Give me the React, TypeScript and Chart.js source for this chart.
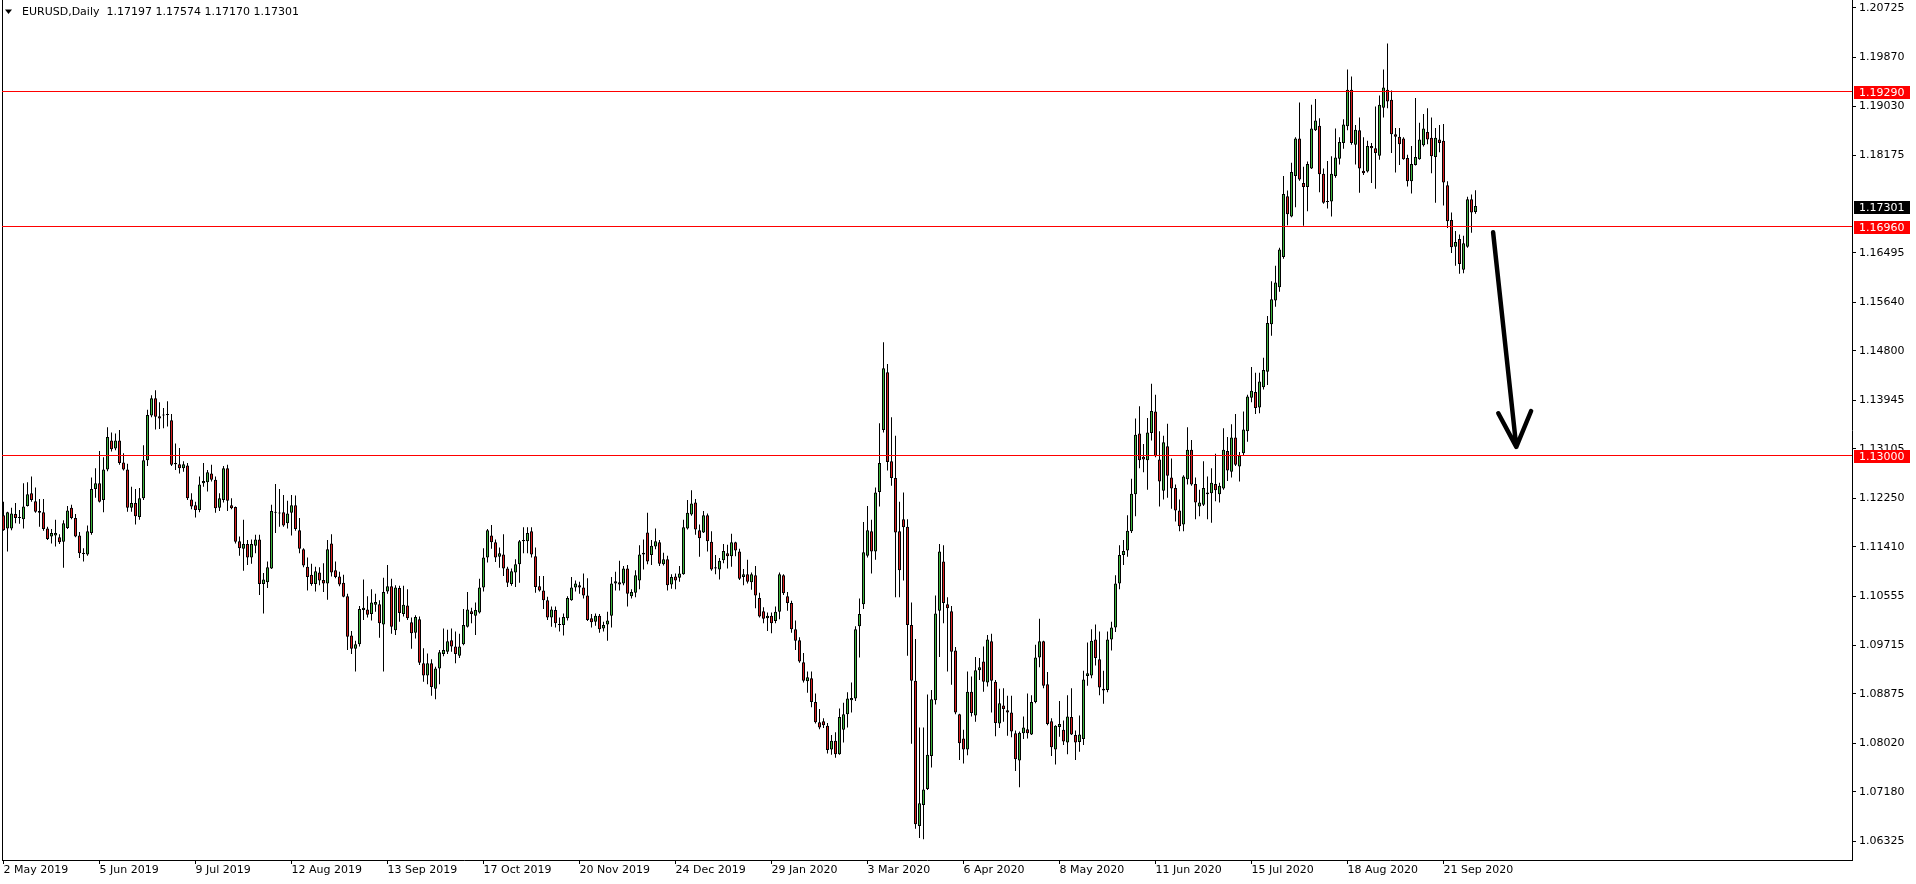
import React, { useEffect, useRef } from "react";
import { Chart, registerables } from "chart.js";

Chart.register(...registerables);

// ---- data (EURUSD daily, bar 0 = 2 May 2019) ----
const OPEN = [
  1.1196,1.1173,1.1173,1.1198,1.1191,1.1189,1.1212,1.1234,1.1220,1.1203,
  1.1201,1.1173,1.1159,1.1161,1.1158,1.1150,1.1174,1.1209,1.1191,1.1161,
  1.1131,1.1128,1.1165,1.1241,1.1251,1.1222,1.1275,1.1325,1.1311,1.1325,
  1.1287,1.1275,1.1209,1.1217,1.1193,1.1225,1.1291,1.1368,1.1398,1.1367,
  1.1368,1.1369,1.1360,1.1286,1.1284,1.1277,1.1282,1.1223,1.1213,1.1205,
  1.1251,1.1253,1.1268,1.1257,1.1209,1.1222,1.1277,1.1213,1.1210,1.1151,
  1.1138,1.1146,1.1123,1.1143,1.1154,1.1077,1.1080,1.1104,1.1202,1.1200,
  1.1201,1.1182,1.1200,1.1213,1.1170,1.1137,1.1107,1.1093,1.1077,1.1097,
  1.1084,1.1078,1.1147,1.1101,1.1090,1.1079,1.1056,1.0988,1.0965,1.0973,
  1.1032,1.1033,
  1.1025,1.1041,1.1042,1.1007,1.1064,1.1073,1.0997,1.1070,1.1025,1.1040,
  1.1011,1.0993,1.1016,1.0940,1.0919,1.0940,1.0896,1.0931,1.0956,1.0960,
  1.0980,1.0969,1.0953,1.0973,1.1003,1.1030,1.1022,1.1028,1.1071,1.1123,
  1.1161,1.1149,1.1124,1.1128,1.1104,1.1077,1.1097,1.1111,1.1151,1.1151,
  1.1168,1.1125,1.1073,1.1066,1.1049,1.1019,1.1032,1.1008,1.1006,1.1018,
  1.1049,1.1071,1.1075,1.1071,1.1057,1.1018,1.1012,1.1022,1.1000,1.1007,
  1.1022,1.1078,1.1080,1.1078,1.1104,1.1056,1.1062,1.1083,1.1128,1.1166,
  1.1127,1.1142,1.1149,1.1111,1.1120,1.1076,1.1090,1.1088,1.1094,1.1173,
  1.1197,1.1218,1.1170,1.1166,1.1196,1.1150,1.1106,1.1102,1.1118,1.1130,
  1.1125,1.1149,1.1133,
  1.1089,1.1094,1.1080,1.1092,1.1053,1.1030,1.1018,1.1022,1.1013,1.1029,
  1.1092,1.1056,1.1044,1.0999,1.0980,1.0942,1.0909,1.0914,1.0873,1.0838,
  1.0840,1.0832,1.0791,1.0806,1.0783,1.0825,1.0852,1.0876,1.0879,1.1004,
  1.1042,1.1126,1.1168,1.1133,1.1236,1.1343,1.1443,1.1289,1.1260,1.1168,
  1.1189,1.1176,1.1006,1.0910,1.0659,1.0695,1.0723,1.0780,1.0876,1.1031,
  1.1116,1.1042,1.1030,1.0962,1.0852,1.0810,1.0791,1.0891,1.0850,1.0928,
  1.0943,1.0907,1.0978,1.0908,1.0836,1.0867,1.0859,1.0855,1.0819,1.0772,
  1.0819,1.0826,1.0817,1.0873,1.0950,1.0978,1.0904,1.0840,1.0791,1.0830,
  1.0825,1.0803,1.0847,1.0816,1.0804,1.0809,1.0918,1.0919,1.0981,1.0947,
  1.0896,1.0894,
  1.0981,1.1002,1.1078,1.1127,1.1135,1.1168,1.1232,1.1337,1.1297,1.1291,
  1.1338,1.1375,1.1292,1.1238,1.1315,1.1261,1.1243,1.1204,1.1180,1.1258,
  1.1309,1.1250,1.1211,1.1214,1.1232,1.1234,1.1250,1.1232,1.1242,1.1307,
  1.1271,1.1330,1.1280,1.1303,1.1341,1.1399,1.1409,1.1382,1.1417,1.1444,
  1.1526,1.1567,1.1590,1.1642,1.1747,1.1712,1.1782,1.1847,1.1770,1.1763,
  1.1795,1.1861,1.1869,1.1786,1.1739,1.1738,1.1782,1.1812,1.1839,1.1868,
  1.1931,1.1836,1.1861,1.1791,1.1790,1.1834,1.1830,1.1817,1.1900,1.1931,
  1.1914,1.1854,1.1850,1.1847,1.1813,1.1773,1.1801,1.1811,1.1835,1.1858,
  1.1848,1.1815,1.1845,1.1843,1.1766,1.1706,1.1660,1.1673,1.1620,1.1660,
  1.1742,1.17197,
];

const HIGH = [
  1.1219,1.1202,1.1209,1.1217,1.1205,1.1251,1.1253,1.1263,1.1244,1.1224,
  1.1224,1.1176,1.1172,1.1188,1.1163,1.1187,1.1212,1.1214,1.1198,1.1167,
  1.1139,1.1178,1.1261,1.1277,1.1307,1.1296,1.1348,1.1339,1.1337,1.1343,
  1.1303,1.1285,1.1245,1.1241,1.1243,1.1317,1.1378,1.1403,1.1412,1.1391,
  1.1381,1.1393,1.1371,1.1320,1.1312,1.1289,1.1286,1.1234,1.1219,1.1263,
  1.1286,1.1274,1.1283,1.1263,1.1234,1.1281,1.1283,1.1225,1.1211,1.1159,
  1.1188,1.1153,1.1154,1.1162,1.1162,1.1096,1.1116,1.1214,1.1250,1.1241,
  1.1231,1.1221,1.1231,1.1230,1.1191,1.1139,1.1123,1.1112,1.1107,1.1106,
  1.1113,1.1153,1.1163,1.1116,1.1098,1.1093,1.1060,1.0996,1.0979,1.1039,
  1.1085,1.1056,
  1.1068,1.1060,1.1049,1.1088,1.1110,1.1086,1.1075,1.1074,1.1074,1.1068,
  1.1019,1.1023,1.1021,1.0966,1.0957,1.0947,1.0934,1.0963,1.1000,1.0998,
  1.1000,1.0995,1.0991,1.1034,1.1063,1.1036,1.1045,1.1086,1.1139,1.1172,
  1.1179,1.1154,1.1140,1.1163,1.1107,1.1104,1.1120,1.1153,1.1175,1.1175,
  1.1175,1.1140,1.1091,1.1091,1.1055,1.1038,1.1038,1.1019,1.1026,1.1056,
  1.1089,1.1083,1.1081,1.1095,1.1087,1.1025,1.1026,1.1025,1.1012,1.1029,
  1.1089,1.1098,1.1117,1.1108,1.1110,1.1068,1.1101,1.1144,1.1154,1.1200,
  1.1153,1.1173,1.1153,1.1131,1.1126,1.1094,1.1095,1.1108,1.1188,1.1222,
  1.1239,1.1224,1.1180,1.1203,1.1199,1.1168,1.1127,1.1122,1.1146,1.1145,
  1.1164,1.1150,1.1138,
  1.1103,1.1119,1.1097,1.1108,1.1062,1.1037,1.1028,1.1028,1.1038,1.1097,
  1.1094,1.1063,1.1048,1.1014,1.0985,1.0958,1.0926,1.0926,1.0888,1.0861,
  1.0845,1.0837,1.0816,1.0821,1.0862,1.0872,1.0890,1.0907,1.1004,1.1052,
  1.1184,1.1212,1.1188,1.1244,1.1355,1.1495,1.1457,1.1365,1.1333,1.1219,
  1.1235,1.1189,1.1045,1.0982,1.0829,1.0829,1.0886,1.0894,1.1057,1.1146,
  1.1144,1.1054,1.1039,1.0968,1.0853,1.0825,1.0926,1.0917,1.0951,1.0949,
  1.0969,1.0989,1.0991,1.0911,1.0896,1.0897,1.0884,1.0884,1.0824,1.0822,
  1.0848,1.0888,1.0885,1.0972,1.1017,1.0979,1.0925,1.0845,1.0833,1.0875,
  1.0841,1.0885,1.0897,1.0824,1.0850,1.0927,1.0976,1.0999,1.1007,1.0995,
  1.0927,1.0995,
  1.1012,1.1092,1.1144,1.1153,1.1196,1.1259,1.1363,1.1384,1.1319,1.1364,
  1.1423,1.1404,1.1341,1.1333,1.1354,1.1294,1.1249,1.1223,1.1265,1.1348,
  1.1326,1.1261,1.1240,1.1289,1.1263,1.1277,1.1302,1.1252,1.1346,1.1331,
  1.1353,1.1371,1.1305,1.1375,1.1404,1.1452,1.1442,1.1442,1.1468,1.1540,
  1.1600,1.1627,1.1658,1.1782,1.1757,1.1805,1.1849,1.1909,1.1798,1.1807,
  1.1905,1.1915,1.1882,1.1795,1.1808,1.1816,1.1864,1.1849,1.1880,1.1966,
  1.1954,1.1870,1.1883,1.1849,1.1843,1.1839,1.1902,1.1921,1.1966,1.2011,
  1.1930,1.1865,1.1865,1.1849,1.1819,1.1834,1.1917,1.1874,1.1889,1.1899,
  1.1883,1.1865,1.1870,1.1872,1.1773,1.1719,1.1687,1.1681,1.1679,1.1746,
  1.1750,1.17574,
];

const LOW = [
  1.1169,1.1133,1.1170,1.1182,1.1181,1.1173,1.1211,1.1219,1.1200,1.1176,
  1.1169,1.1153,1.1147,1.1142,1.1146,1.1105,1.1172,1.1189,1.1158,1.1122,
  1.1116,1.1126,1.1162,1.1226,1.1218,1.1201,1.1272,1.1306,1.1308,1.1283,
  1.1273,1.1202,1.1202,1.1180,1.1188,1.1222,1.1281,1.1365,1.1344,1.1345,
  1.1346,1.1349,1.1281,1.1274,1.1268,1.1271,1.1222,1.1206,1.1192,1.1201,
  1.1245,1.1237,1.1254,1.1200,1.1203,1.1218,1.1203,1.1206,1.1147,1.1126,
  1.1100,1.1110,1.1112,1.1130,1.1058,1.1026,1.1070,1.1103,1.1165,1.1176,
  1.1176,1.1173,1.1161,1.1169,1.1130,1.1106,1.1066,1.1074,1.1064,1.1075,
  1.1063,1.1050,1.1090,1.1087,1.1073,1.1054,1.0963,1.0956,1.0926,1.0969,
  1.1015,1.1019,
  1.1014,1.1029,1.0984,1.0926,1.1060,1.0991,1.0989,1.1012,1.1021,1.1015,
  1.0965,1.0983,1.0937,1.0908,1.0904,1.0884,1.0878,1.0904,1.0952,1.0956,
  1.0960,1.0940,1.0949,1.0971,1.1002,1.1009,1.0989,1.1026,1.1064,1.1114,
  1.1138,1.1115,1.1105,1.1091,1.1072,1.1074,1.1072,1.1079,1.1130,1.1130,
  1.1123,1.1062,1.1064,1.1034,1.1015,1.1003,1.1002,1.0995,1.0988,1.1014,
  1.1048,1.1064,1.1060,1.1052,1.1013,1.1002,1.1005,1.0993,1.0995,1.0979,
  1.1002,1.1066,1.1066,1.1075,1.1038,1.1052,1.1054,1.1068,1.1102,1.1111,
  1.1110,1.1137,1.1108,1.1109,1.1066,1.1069,1.1068,1.1081,1.1093,1.1171,
  1.1195,1.1162,1.1124,1.1165,1.1133,1.1100,1.1094,1.1085,1.1113,1.1104,
  1.1107,1.1125,1.1084,
  1.1075,1.1078,1.1067,1.1035,1.1019,1.1009,1.0996,1.0992,1.1009,1.1016,
  1.1058,1.1031,1.0993,1.0963,1.0941,1.0907,1.0889,1.0864,1.0836,1.0826,
  1.0828,1.0784,1.0782,1.0777,1.0782,1.0803,1.0829,1.0855,1.0875,1.0950,
  1.1034,1.1123,1.1095,1.1119,1.1211,1.1339,1.1273,1.1247,1.1054,1.1054,
  1.1083,1.0953,1.0801,1.0654,1.0638,1.0636,1.0721,1.0760,1.0869,1.0951,
  1.1009,1.0926,1.0903,1.0852,1.0773,1.0767,1.0781,1.0848,1.0839,1.0911,
  1.0891,1.0900,1.0855,1.0814,1.0828,1.0839,1.0815,1.0812,1.0754,1.0726,
  1.0809,1.0810,1.0816,1.0871,1.0933,1.0897,1.0833,1.0780,1.0765,1.0813,
  1.0799,1.0783,1.0816,1.0773,1.0787,1.0799,1.0901,1.0914,1.0936,1.0885,
  1.0870,1.0890,
  1.0962,1.0994,1.1068,1.1110,1.1124,1.1165,1.1194,1.1277,1.1270,1.1240,
  1.1325,1.1296,1.1211,1.1223,1.1226,1.1207,1.1185,1.1168,1.1168,1.1249,
  1.1247,1.1189,1.1194,1.1212,1.1189,1.1183,1.1220,1.1218,1.1240,1.1255,
  1.1261,1.1281,1.1254,1.1299,1.1323,1.1391,1.1371,1.1372,1.1413,1.1421,
  1.1506,1.1556,1.1582,1.1639,1.1697,1.1711,1.1728,1.1774,1.1696,1.1721,
  1.1794,1.1860,1.1754,1.1734,1.1726,1.1712,1.1779,1.1802,1.1829,1.1861,
  1.1836,1.1802,1.1753,1.1784,1.1788,1.1770,1.1760,1.1810,1.1883,1.1899,
  1.1822,1.1788,1.1801,1.1810,1.1764,1.1752,1.1800,1.1810,1.1833,1.1837,
  1.1787,1.1736,1.1823,1.1731,1.1692,1.1649,1.1627,1.1613,1.1614,1.1658,
  1.1684,1.17170,
];

const CLOSE = [
  1.1170,1.1201,1.1199,1.1191,1.1192,1.1211,1.1232,1.1222,1.1202,1.1200,
  1.1172,1.1155,1.1165,1.1165,1.1149,1.1182,1.1204,1.1191,1.1159,1.1130,
  1.1129,1.1168,1.1241,1.1251,1.1219,1.1275,1.1331,1.1310,1.1325,1.1286,
  1.1275,1.1209,1.1217,1.1194,1.1225,1.1291,1.1369,1.1398,1.1366,1.1363,
  1.1369,1.1370,1.1283,1.1284,1.1277,1.1284,1.1225,1.1211,1.1205,1.1249,
  1.1255,1.1270,1.1257,1.1208,1.1225,1.1277,1.1221,1.1208,1.1150,1.1139,
  1.1146,1.1123,1.1146,1.1154,1.1077,1.1085,1.1106,1.1203,1.1200,1.1199,
  1.1178,1.1199,1.1213,1.1172,1.1138,1.1109,1.1089,1.1077,1.1099,1.1083,
  1.1078,1.1137,1.1097,1.1089,1.1076,1.1055,1.0986,1.0965,1.0973,1.1034,
  1.1036,1.1024,
  1.1045,1.1046,1.1009,1.1063,1.1073,1.1003,1.1071,1.1027,1.1041,1.1018,
  1.0992,1.1020,1.0941,1.0919,1.0940,1.0899,1.0931,1.0959,1.0963,1.0978,
  1.0969,1.0956,1.0969,1.1006,1.1033,1.1025,1.1032,1.1071,1.1123,1.1170,
  1.1149,1.1123,1.1130,1.1104,1.1079,1.1099,1.1111,1.1151,1.1153,1.1165,
  1.1128,1.1072,1.1066,1.1049,1.1019,1.1033,1.1009,1.1006,1.1020,1.1053,
  1.1071,1.1078,1.1071,1.1057,1.1015,1.1011,1.1022,1.0999,1.1006,1.1014,
  1.1078,1.1082,1.1076,1.1104,1.1060,1.1063,1.1092,1.1128,1.1131,1.1116,
  1.1143,1.1151,1.1112,1.1120,1.1075,1.1089,1.1083,1.1095,1.1175,1.1200,
  1.1216,1.1171,1.1156,1.1196,1.1151,1.1102,1.1104,1.1117,1.1134,1.1125,
  1.1149,1.1135,1.1086,
  1.1094,1.1081,1.1094,1.1057,1.1021,1.1017,1.1022,1.1009,1.1029,1.1094,
  1.1061,1.1044,1.0999,1.0979,1.0943,1.0910,1.0916,1.0873,1.0838,1.0829,
  1.0833,1.0790,1.0806,1.0783,1.0847,1.0852,1.0879,1.0880,1.0999,1.1025,
  1.1132,1.1170,1.1133,1.1235,1.1286,1.1450,1.1288,1.1260,1.1166,1.1101,
  1.1175,1.1006,1.0910,1.0662,1.0698,1.0722,1.0782,1.0878,1.1026,1.1133,
  1.1044,1.1035,1.0960,1.0855,1.0802,1.0791,1.0891,1.0854,1.0928,1.0933,
  1.0908,1.0981,1.0910,1.0837,1.0871,1.0861,1.0855,1.0822,1.0774,1.0820,
  1.0829,1.0819,1.0873,1.0950,1.0978,1.0901,1.0835,1.0795,1.0832,1.0835,
  1.0805,1.0848,1.0817,1.0803,1.0817,1.0912,1.0923,1.0979,1.0949,1.0898,
  1.0893,1.0981,
  1.1002,1.1078,1.1127,1.1134,1.1169,1.1233,1.1335,1.1291,1.1292,1.1339,
  1.1376,1.1298,1.1254,1.1322,1.1264,1.1242,1.1204,1.1177,1.1263,1.1309,
  1.1249,1.1218,1.1218,1.1243,1.1235,1.1252,1.1239,1.1247,1.1309,1.1273,
  1.1330,1.1283,1.1299,1.1344,1.1401,1.1411,1.1381,1.1427,1.1447,1.1528,
  1.1569,1.1598,1.1655,1.1751,1.1716,1.1789,1.1847,1.1776,1.1763,1.1803,
  1.1864,1.1878,1.1785,1.1736,1.1737,1.1786,1.1814,1.1841,1.1871,1.1931,
  1.1839,1.1862,1.1795,1.1787,1.1834,1.1830,1.1822,1.1905,1.1935,1.1911,
  1.1854,1.1850,1.1837,1.1811,1.1773,1.1803,1.1815,1.1845,1.1864,1.1845,
  1.1816,1.1848,1.1839,1.1771,1.1704,1.1659,1.1668,1.1630,1.1666,1.1742,
  1.1719,1.17301,
];

const DATE_LABELS = [
  "2 May 2019", "5 Jun 2019", "9 Jul 2019", "12 Aug 2019", "13 Sep 2019",
  "17 Oct 2019", "20 Nov 2019", "24 Dec 2019", "29 Jan 2020", "3 Mar 2020",
  "6 Apr 2020", "8 May 2020", "11 Jun 2020", "15 Jul 2020", "18 Aug 2020",
  "21 Sep 2020",
];
const DATE_TICK_BARS = [0, 24, 48, 72, 96, 120, 144, 168, 192, 216, 240, 264, 288, 312, 336, 360];

const PRICE_TICKS = [
  1.20725, 1.1987, 1.1903, 1.18175, 1.16495, 1.1564, 1.148, 1.13945,
  1.13105, 1.1225, 1.1141, 1.10555, 1.09715, 1.08875, 1.0802, 1.0718, 1.06325,
];
const PRICE_MIN = 1.06001;
const PRICE_MAX = 1.20862;
const BAR_MIN = -0.375;
const BAR_MAX = 462.125;

const LEVELS = [1.1929, 1.1696, 1.13];
const SYMBOL = "EURUSD,Daily";

// hand-drawn arrow, in (bar, price) coordinates
const ARROW_FROM = [372.4, 1.1685];
const ARROW_TO = [378.2, 1.1314];
const ARROW_WING_L = [373.7, 1.1372];
const ARROW_WING_R = [381.9, 1.1376];

const GREEN = "#3cb43c";
const RED = "#d81e1e";
const FONT = '"DejaVu Sans", "Liberation Sans", sans-serif';

const overlayPlugin = {
  id: "mt4overlay",
  afterDatasetsDraw(chart: any) {
    const { ctx, chartArea, scales } = chart;
    const x = scales.x;
    const y = scales.y;
    ctx.save();
    // left frame of the chart window
    ctx.fillStyle = "#000";
    ctx.fillRect(chartArea.left, chartArea.top, 1, chartArea.bottom - chartArea.top);
    // horizontal levels
    ctx.fillStyle = "#ff0000";
    LEVELS.forEach((v) => {
      const py = Math.round(y.getPixelForValue(v));
      ctx.fillRect(chartArea.left, py, chartArea.right - chartArea.left, 1);
    });
    // arrow
    const P = (p: number[]) => [x.getPixelForValue(p[0]), y.getPixelForValue(p[1])];
    const a = P(ARROW_FROM), b = P(ARROW_TO), l = P(ARROW_WING_L), r = P(ARROW_WING_R);
    ctx.strokeStyle = "#000";
    ctx.lineWidth = 4.5;
    ctx.lineCap = "round";
    ctx.lineJoin = "round";
    ctx.beginPath();
    ctx.moveTo(a[0], a[1]);
    ctx.lineTo(b[0], b[1]);
    ctx.moveTo(l[0], l[1]);
    ctx.lineTo(b[0], b[1]);
    ctx.lineTo(r[0], r[1]);
    ctx.stroke();
    ctx.restore();
  },
  afterDraw(chart: any) {
    const { ctx, scales } = chart;
    const y = scales.y;
    ctx.save();
    ctx.font = "11px " + FONT;
    ctx.textBaseline = "middle";
    ctx.textAlign = "left";
    const box = (v: number, bg: string) => {
      const py = Math.round(y.getPixelForValue(v));
      const top = py - 5;
      ctx.fillStyle = bg;
      ctx.fillRect(1854, top, 56, 13);
      ctx.fillStyle = "#fff";
      ctx.fillText(v.toFixed(5), 1859, top + 7);
    };
    LEVELS.forEach((v) => box(v, "#ff0000"));
    box(CLOSE[CLOSE.length - 1], "#000000");

    // header
    const n = OPEN.length - 1;
    ctx.fillStyle = "#000";
    ctx.beginPath();
    ctx.moveTo(5, 9.5);
    ctx.lineTo(12, 9.5);
    ctx.lineTo(8.5, 14);
    ctx.closePath();
    ctx.fill();
    const txt = `${SYMBOL}  ${OPEN[n].toFixed(5)} ${HIGH[n].toFixed(5)} ${LOW[n].toFixed(5)} ${CLOSE[n].toFixed(5)}`;
    ctx.fillText(txt, 22, 12);
    ctx.restore();
  },
};

export default function App() {
  const ref = useRef<HTMLCanvasElement>(null);
  useEffect(() => {
    document.body.style.margin = "0";
    document.body.style.background = "#fff";
    const canvas = ref.current!;
    const bodies = OPEN.map((o, i) => ({ x: i, y: [o, CLOSE[i]] }));
    const wicks = LOW.map((l, i) => ({ x: i, y: [l, HIGH[i]] }));
    const colors = OPEN.map((o, i) => (CLOSE[i] >= o ? GREEN : RED));
    const chart = new Chart(canvas, {
      type: "bar",
      data: {
        datasets: [
          {
            label: "body",
            data: bodies as any,
            backgroundColor: colors,
            borderColor: "#000",
            borderWidth: 1,
            borderSkipped: false,
            barThickness: 3,
            grouped: false,
            minBarLength: 1,
            inflateAmount: 0,
          } as any,
          {
            label: "wick",
            data: wicks as any,
            backgroundColor: "#000",
            borderWidth: 0,
            barThickness: 1,
            grouped: false,
            inflateAmount: 0,
          } as any,
        ],
      },
      options: {
        responsive: false,
        animation: false,
        devicePixelRatio: 1,
        events: [],
        layout: { padding: { left: 2, top: 0, right: 0, bottom: 0 } },
        plugins: {
          legend: { display: false },
          tooltip: { enabled: false },
          title: { display: false },
        },
        scales: {
          x: {
            type: "linear",
            position: "bottom",
            min: BAR_MIN,
            max: BAR_MAX,
            offset: false,
            afterBuildTicks: (s: any) => {
              s.ticks = DATE_TICK_BARS.map((v) => ({ value: v }));
            },
            afterFit: (s: any) => {
              s.height = 24;
              s.paddingLeft = 0;
              s.paddingRight = 0;
            },
            ticks: {
              autoSkip: false,
              maxRotation: 0,
              minRotation: 0,
              align: "start",
              padding: 0,
              color: "#000",
              font: { family: FONT, size: 11 },
              callback: (_v: any, idx: number) => DATE_LABELS[idx],
            },
            grid: { drawOnChartArea: false, drawTicks: true, tickLength: 4, color: "#000", offset: false },
            border: { display: true, color: "#000", width: 1 },
          } as any,
          y: {
            type: "linear",
            position: "right",
            min: PRICE_MIN,
            max: PRICE_MAX,
            afterBuildTicks: (s: any) => {
              s.ticks = PRICE_TICKS.map((v) => ({ value: v }));
            },
            afterFit: (s: any) => {
              s.width = 64;
              s.paddingTop = 0;
              s.paddingBottom = 0;
            },
            ticks: {
              autoSkip: false,
              padding: 3,
              color: "#000",
              font: { family: FONT, size: 11 },
              callback: (v: any) => Number(v).toFixed(5),
            },
            grid: { drawOnChartArea: false, drawTicks: true, tickLength: 4, color: "#000" },
            border: { display: true, color: "#000", width: 1 },
          } as any,
        },
      },
      plugins: [overlayPlugin],
    });
    return () => chart.destroy();
  }, []);
  return (
    <div style={{ width: 1916, height: 884, background: "#fff" }}>
      <canvas ref={ref} width={1916} height={884} style={{ display: "block", width: 1916, height: 884 }} />
    </div>
  );
}
